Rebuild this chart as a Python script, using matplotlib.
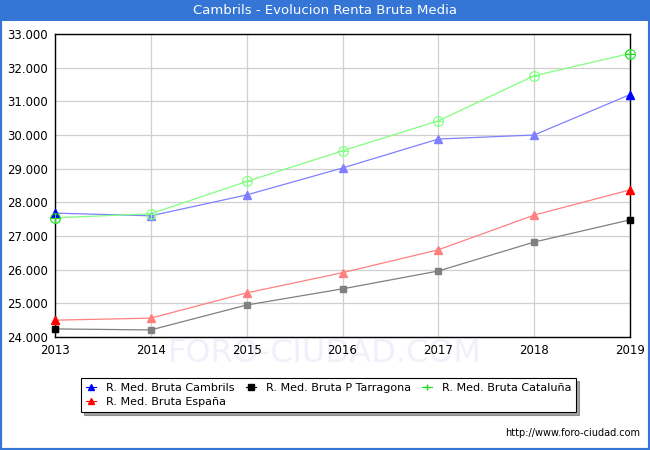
import matplotlib.pyplot as plt
from matplotlib.lines import Line2D
from matplotlib.patches import Rectangle
from matplotlib.ticker import FuncFormatter

years = [2013, 2014, 2015, 2016, 2017, 2018, 2019]
cambrils = [27680, 27600, 28220, 29020, 29880, 30000, 31200]
tarragona = [24240, 24210, 24950, 25430, 25960, 26820, 27480]
cataluna = [27540, 27660, 28620, 29530, 30420, 31760, 32420]
espana = [24500, 24560, 25310, 25910, 26590, 27620, 28370]

fig = plt.figure(figsize=(6.5, 4.5), dpi=100)
fig.patch.set_facecolor("white")

# blue frame and title bar
fig.patches.append(Rectangle((0, 0), 1, 1, transform=fig.transFigure,
                             fill=False, edgecolor="#3575d5", linewidth=3, zorder=0))
fig.patches.append(Rectangle((0, 1 - 21 / 450), 1, 21 / 450, transform=fig.transFigure,
                             facecolor="#3575d5", edgecolor="none", zorder=1))
fig.text(0.5, 1 - 11 / 450, "Cambrils - Evolucion Renta Bruta Media", color="white",
         ha="center", va="center", fontsize=9.5)

ax = fig.add_axes([55 / 650, 113 / 450, 575 / 650, 303 / 450])

# watermark, behind the tick labels
ax.text(0.5, 1 - 354 / 450, "FORO-CIUDAD.COM", transform=fig.transFigure,
        ha="center", va="center", fontsize=23, color="#f0f0fa", zorder=0, clip_on=False)

series = [
    (cambrils, "#8080ff", "blue", "^", "R. Med. Bruta Cambrils"),
    (tarragona, "#808080", "black", "s", "R. Med. Bruta P Tarragona"),
    (cataluna, "#80ff80", "#22dd22", "o", "R. Med. Bruta Cataluña"),
    (espana, "#ff8080", "red", "^", "R. Med. Bruta España"),
]

for vals, light, full, mk, label in series:
    ax.plot(years, vals, color=light, linewidth=0.9, zorder=3)
    if mk == "o":
        ax.plot(years, vals, linestyle="none", marker="o", markersize=7,
                markerfacecolor="none", markeredgecolor=light, markeredgewidth=0.8, zorder=4)
        ax.plot(years, vals, linestyle="none", marker="+", markersize=7,
                color=light, markeredgewidth=0.8, zorder=4)
        for i in (0, len(years) - 1):
            ax.plot(years[i], vals[i], marker="o", markersize=7, markerfacecolor="none",
                    markeredgecolor=full, markeredgewidth=0.8, zorder=5, clip_on=False)
            ax.plot(years[i], vals[i], marker="+", markersize=7, color=full,
                    markeredgewidth=0.8, zorder=5, clip_on=False)
    else:
        ms = 4.5 if mk == "s" else 5.5
        ax.plot(years, vals, linestyle="none", marker=mk, markersize=ms, color=light, zorder=4)
        for i in (0, len(years) - 1):
            ax.plot(years[i], vals[i], marker=mk, markersize=ms, color=full, zorder=5,
                    clip_on=False)

ax.set_xlim(2013, 2019)
ax.set_ylim(24000, 33000)
ax.set_xticks(years)
ax.set_yticks(range(24000, 33001, 1000))
ax.yaxis.set_major_formatter(FuncFormatter(lambda v, p: f"{int(v):,}".replace(",", ".")))
ax.grid(True, color="#d0d0d0", linewidth=0.9)
ax.set_axisbelow(True)
ax.tick_params(length=0, labelsize=8.5, pad=5)
for s in ax.spines.values():
    s.set_color("black")
    s.set_linewidth(1)

handles = [Line2D([0], [0], color=full, marker=mk, markersize=5, linewidth=0.8)
           for _, light, full, mk, _ in series]
handles[2] = Line2D([0], [0], color="#22dd22", marker="+", markersize=5, linewidth=0.8)
labels = [s[4] for s in series]
order = [0, 3, 1, 2]
leg = fig.legend([handles[i] for i in order], [labels[i] for i in order],
                 loc="upper left", bbox_to_anchor=(81 / 650, 1 - 378 / 450),
                 borderaxespad=0, ncol=3, fontsize=8, frameon=True, fancybox=False,
                 shadow=True, edgecolor="black", handlelength=0.9, handletextpad=0.9,
                 columnspacing=1.0, borderpad=0.45, labelspacing=0.35)
leg.get_frame().set_linewidth(0.8)

fig.text(1 - 10 / 650, 1 - 433 / 450, "http://www.foro-ciudad.com", ha="right", va="center",
         fontsize=7, color="black")

fig.savefig("out.png", dpi=100)
